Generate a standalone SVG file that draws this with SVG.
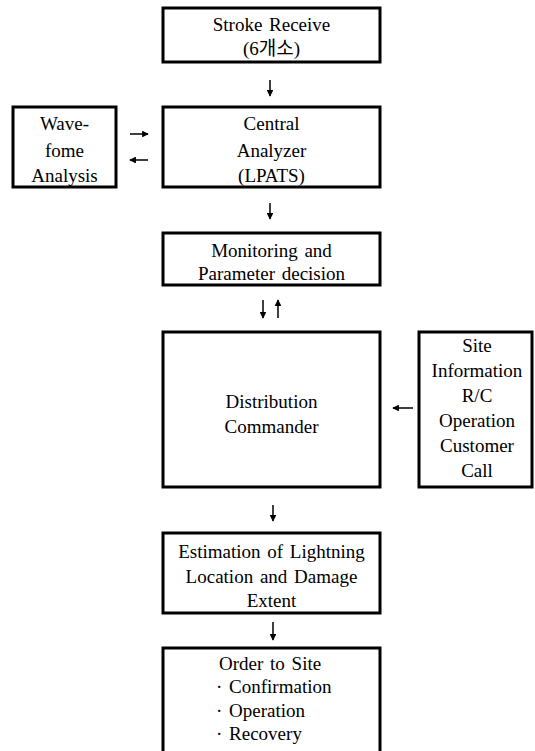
<svg xmlns="http://www.w3.org/2000/svg" width="535" height="751" viewBox="0 0 535 751">
<style>
.box{fill:#fff;stroke:#000;stroke-width:3}
text{font-family:"Liberation Serif","Noto Sans CJK KR",serif;font-size:19px;fill:#000;text-anchor:middle;word-spacing:2px}
.l{text-anchor:start}
.c{stroke:#000;stroke-width:1.5;fill:none;marker-end:url(#ah)}
</style>
<defs>
<marker id="ah" viewBox="0 0 8 8" refX="7" refY="4" markerWidth="4.5" markerHeight="4.5" orient="auto" markerUnits="strokeWidth">
<path d="M0,0 L8,4 L0,8 z" fill="#000"/>
</marker>
</defs>
<rect width="535" height="751" fill="#fff"/>
<g id="stroke">
<rect class="box" x="163" y="8" width="217" height="54"/>
<text x="271.5" y="31">Stroke Receive</text>
<text x="271.5" y="55">(6개소)</text>
</g>
<g id="central">
<rect class="box" x="163" y="107" width="217" height="80"/>
<text x="271.5" y="130">Central</text>
<text x="271.5" y="157">Analyzer</text>
<text x="271.5" y="182">(LPATS)</text>
</g>
<g id="wave">
<rect class="box" x="13" y="107" width="103" height="80"/>
<text x="64.5" y="130">Wave-</text>
<text x="64.5" y="157">fome</text>
<text x="64.5" y="182">Analysis</text>
</g>
<g id="monitor">
<rect class="box" x="163" y="233" width="217" height="52"/>
<text x="271.5" y="257">Monitoring and</text>
<text x="271.5" y="280">Parameter decision</text>
</g>
<g id="distribution">
<rect class="box" x="163" y="332" width="217" height="155"/>
<text x="271.5" y="408">Distribution</text>
<text x="271.5" y="433">Commander</text>
</g>
<g id="site">
<rect class="box" x="419" y="332" width="113" height="155"/>
<text x="477" y="352">Site</text>
<text x="477" y="377">Information</text>
<text x="477" y="402">R/C</text>
<text x="477" y="427">Operation</text>
<text x="477" y="452">Customer</text>
<text x="477" y="477">Call</text>
</g>
<g id="estimation">
<rect class="box" x="163" y="533" width="217" height="80"/>
<text x="271.5" y="558">Estimation of Lightning</text>
<text x="271.5" y="583">Location and Damage</text>
<text x="271.5" y="607">Extent</text>
</g>
<g id="order">
<rect class="box" x="163" y="648" width="217" height="120"/>
<text class="l" x="219" y="670">Order to Site</text>
<text class="l" x="216" y="693">· Confirmation</text>
<text class="l" x="216" y="717">· Operation</text>
<text class="l" x="216" y="740">· Recovery</text>
</g>
<g id="connectors">
<line class="c" x1="270" y1="80" x2="270" y2="96"/>
<line class="c" x1="130" y1="134" x2="148" y2="134"/>
<line class="c" x1="148" y1="160" x2="130" y2="160"/>
<line class="c" x1="270" y1="203" x2="270" y2="219"/>
<line class="c" x1="263" y1="300" x2="263" y2="318"/>
<line class="c" x1="278" y1="318" x2="278" y2="300"/>
<line class="c" x1="413" y1="408" x2="393" y2="408"/>
<line class="c" x1="273" y1="505" x2="273" y2="521"/>
<line class="c" x1="273" y1="622" x2="273" y2="640"/>
</g>
</svg>
